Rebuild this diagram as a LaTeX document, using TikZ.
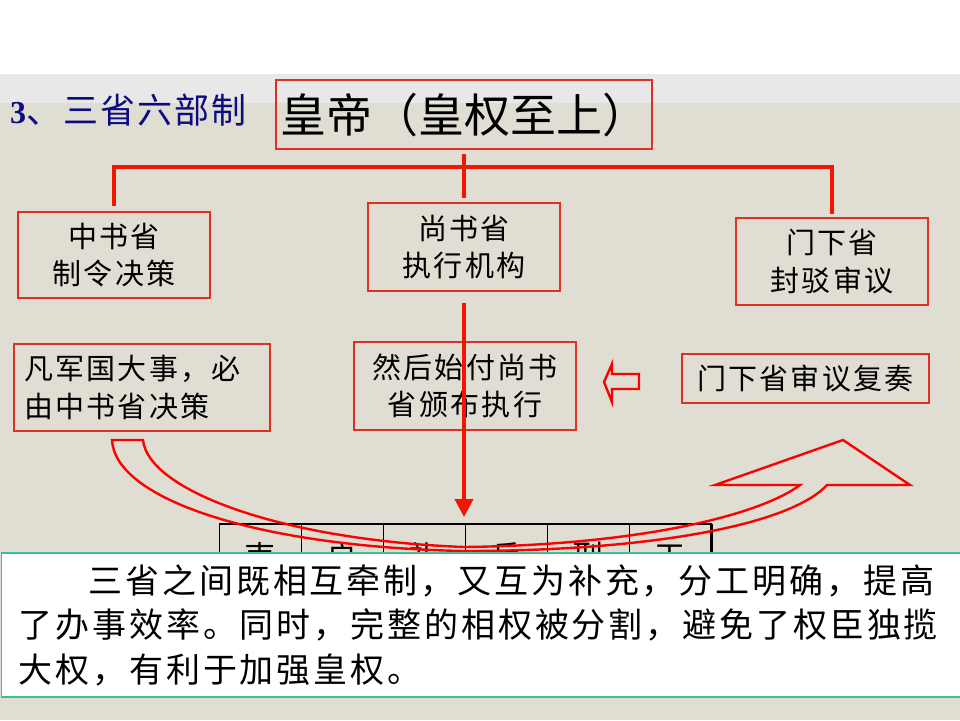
\documentclass[tikz,border=0pt]{standalone}
\usepackage{fontspec}
\usepackage{xcolor}
\usepackage{tikz}
\usetikzlibrary{arrows.meta,positioning,calc}
\newfontfamily\hanzi{Noto Sans CJK SC}[LetterSpace=8]
\newfontfamily\hanzitight{Noto Sans CJK SC}
\newfontfamily\hanzititle{Noto Sans CJK SC}[LetterSpace=6]
\newfontfamily\hanzinote{Noto Sans CJK SC}[LetterSpace=8.5]
\newfontfamily\latinserif{Liberation Serif}
\definecolor{pagebeige}{RGB}{224, 221, 210}
\definecolor{bandgray}{RGB}{232, 232, 232}
\definecolor{titlenavy}{RGB}{12, 12, 130}
\definecolor{boxred}{RGB}{222, 48, 36}
\definecolor{linkred}{RGB}{240, 22, 0}
\definecolor{noteteal}{RGB}{60, 192, 150}

\begin{document}
\begin{tikzpicture}[x=1pt, y=-1pt,
  office/.style={draw=boxred, line width=1.1pt, align=center, inner sep=0pt, font=\fontsize{29}{37.5}\selectfont\hanzi},
  link/.style={draw=linkred, line width=4pt},
  drop/.style={draw=linkred, line width=4pt, -{Triangle[width=18pt, length=18pt]}, linkred},
  hollowarrow/.style={draw=red, line width=2.4pt, line join=miter},
  ministry/.style={draw=black, line width=0.9pt, minimum width=82pt, minimum height=64pt, anchor=north west, inner sep=0pt, font=\fontsize{31}{31}\selectfont\hanzitight}
]
\useasboundingbox (0,0) rectangle (960,720);

% Background
\fill[pagebeige] (0,0) rectangle (960,720);
\fill[white] (0,0) rectangle (960,74);
\fill[bandgray] (0,74) rectangle (960,103);

% Title
\node[anchor=west, text=titlenavy, inner sep=0pt] (title) at (10,110) {{\fontsize{32}{32}\selectfont\latinserif\bfseries 3}{\fontsize{35}{35}\selectfont\hanzititle 、三省六部制}};

% Offices
\node[office, font=\fontsize{46}{50}\selectfont\hanzitight, minimum width=376pt, minimum height=69pt, text depth=8pt, text height=44pt] (emperor) at (464,114.5) {皇帝（皇权至上）};
\node[office, minimum width=192pt, minimum height=86pt] (zhong) at (114,255) {中书省\\制令决策};
\node[office, minimum width=192pt, minimum height=88pt] (shang) at (464,247) {尚书省\\执行机构};
\node[office, minimum width=192pt, minimum height=87pt] (menxia) at (832,261.5) {门下省\\封驳审议};

% Notes
\node[office, align=left, text width=236pt, inner xsep=10pt, minimum height=87pt] (decide) at (142,387.5) {凡军国大事，必\\由中书省决策};
\node[office, minimum width=222pt, minimum height=88pt] (issue) at (465,386) {然后始付尚书\\省颁布执行};
\node[office, minimum width=247pt, minimum height=49pt] (review) at (805.5,378.5) {门下省审议复奏};

% Connectors
\coordinate (bus) at (464,167);
\draw[link] ([yshift=-4pt]emperor.south) -- ([yshift=4pt]shang.north);
\draw[link] ([yshift=5pt]zhong.north) |- (bus) -| ([yshift=3pt]menxia.north);

% Six ministries
\node[ministry] (li) at (219,524) {吏};
\node[ministry] (hu) at (301,524) {户};
\node[ministry] (rites) at (383,524) {礼};
\node[ministry] (bing) at (465,524) {兵};
\node[ministry] (xing) at (547,524) {刑};
\node[ministry] (gong) at (629,524) {工};
\draw[line width=2.5pt] (li.north west) -- (gong.north east);
\draw[line width=3pt] (gong.north east) -- (gong.south east);

\draw[drop, shorten <=11pt, shorten >=7pt] (shang.south) -- (shang.south |- bing.north);

% Hollow arrows
\draw[hollowarrow] (604,382) -- (612,364) -- (612,374) -- (639,374) -- (639,389) -- (612,389) -- (612,402) -- cycle;
\draw[hollowarrow] (112,440) -- (143,440) .. controls (148,490) and (280,540) .. (464,547)
  .. controls (640,545) and (760,515) .. (800,485) -- (715,485) -- (843,440) -- (910,485) -- (827,485)
  .. controls (790,525) and (650,551) .. (464,551) .. controls (260,547) and (115,500) .. (112,440) -- cycle;

% Summary
\node[draw=noteteal, line width=1.2pt, fill=white, anchor=west, text width=925pt, inner xsep=17pt, minimum height=144pt, align=left, font=\fontsize{34}{44.5}\selectfont\hanzinote] (summary) at (1,625) {\hspace*{70pt}三省之间既相互牵制，又互为补充，分工明确，提高\\了办事效率。同时，完整的相权被分割，避免了权臣独揽\\大权，有利于加强皇权。};

\end{tikzpicture}
\end{document}
